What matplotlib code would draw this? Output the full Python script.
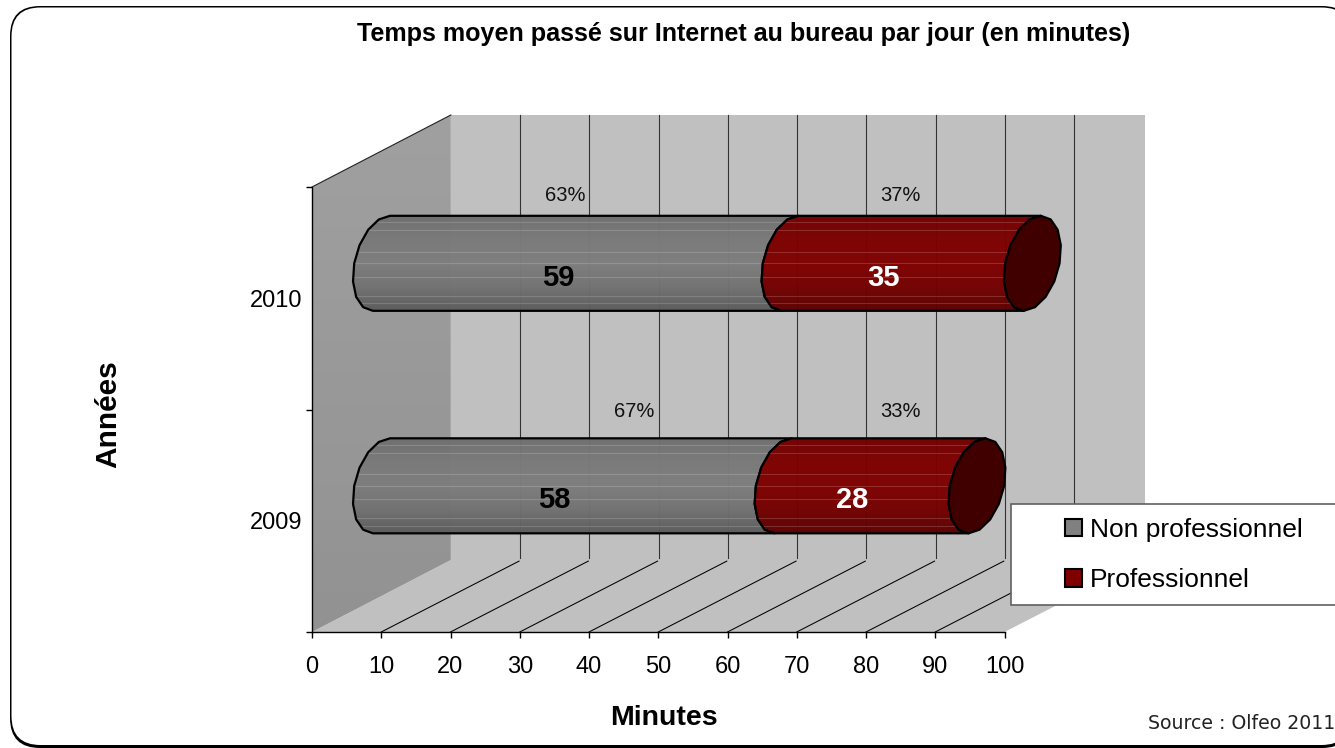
import numpy as np
import matplotlib
matplotlib.use("Agg")
import matplotlib.pyplot as plt
from matplotlib.patches import Polygon, PathPatch, Patch, FancyBboxPatch, Rectangle
from matplotlib.path import Path
from matplotlib.colors import LinearSegmentedColormap

# ---- data ----
years = ["2009", "2010"]
non_pro = [58, 59]
pro = [28, 35]
pct_non_pro = ["67%", "63%"]
pct_pro = ["33%", "37%"]
xticks = list(range(0, 101, 10))
series_names = ["Non professionnel", "Professionnel"]

# ---- style / layout ----
W, H = 1335, 748
plt.rcParams["font.family"] = ["Liberation Sans", "DejaVu Sans"]
PX0, PX1, PY0, PY1 = 312, 1004.5, 632, 187
DX, DY = 20.05, 0.3236             # oblique depth in data units
BACK_EXTRA = 0.2                   # back wall runs slightly past the depth offset
BAR_RISE = 0.157                   # bar centre above the category centre
A, S, B = 3.93, 1.23, 0.2135       # end-ellipse half-width, shear, half-height
GRAY_STOPS = ["#6e6e6e", "#7a7a7a", "#7e7e7e", "#727272", "#5c5c5c"]
RED_STOPS = ["#700000", "#7e0000", "#800000", "#740000", "#5c0000"]
BANDS = [0.07, 0.15, 0.38, 0.50, 0.64, 0.84, 0.92]
PCT_NP_SHIFT = [17.5, 7.0]
PCT_P_SHIFT = [13.0, 8.5]
PCT_Y_SHIFT = [0.493, 0.464]
LABEL_SHIFT = 6.0

fig = plt.figure(figsize=(W / 100, H / 100), dpi=100, facecolor="white")

# background frame in pixel space
bg = fig.add_axes([0, 0, 1, 1], zorder=0)
bg.set_xlim(0, W); bg.set_ylim(H, 0); bg.axis("off")
bg.add_patch(FancyBboxPatch((10, 6), 1342, 742, boxstyle="round,pad=0,rounding_size=30",
                            fc="black", ec="none"))
bg.add_patch(FancyBboxPatch((11.5, 7.5), 1339, 737.5, boxstyle="round,pad=0,rounding_size=29",
                            fc="white", ec="none"))

ax = fig.add_axes([PX0 / W, 1 - PY0 / H, (PX1 - PX0) / W, (PY0 - PY1) / H], zorder=1)
ax.patch.set_visible(False)
ax.set_xlim(0, 100); ax.set_ylim(0, 2)

# walls and floor
ax.add_patch(Polygon([(DX, DY), (100 + DX + BACK_EXTRA, DY), (100 + DX + BACK_EXTRA, 2 + DY), (DX, 2 + DY)],
                     fc="#c0c0c0", ec="none", clip_on=False, zorder=1))
ax.add_patch(Polygon([(0, 0), (100, 0), (100 + DX + BACK_EXTRA, DY), (DX, DY)],
                     fc="#c0c0c0", ec="none", clip_on=False, zorder=1))
wall = ax.imshow(np.linspace(0, 1, 64).reshape(-1, 1), extent=(0, DX, 0, 2 + DY), aspect="auto",
                 cmap=LinearSegmentedColormap.from_list("w", ["#a0a0a0", "#929292"]),
                 zorder=1.1)
wall_clip = Polygon([(0, 0), (DX, DY), (DX, 2 + DY), (0, 2)], transform=ax.transData, fc="none", ec="none")
ax.add_patch(wall_clip); wall_clip.set_clip_on(False)
wall.set_clip_path(wall_clip)
wall.set_clip_box(fig.bbox)
ax.plot([0, DX], [2, 2 + DY], color="#222222", lw=0.8, clip_on=False, zorder=1.2)

# gridlines
for v in xticks[1:-1]:
    ax.plot([v + DX, v + DX], [DY + 0.01, 2 + DY], color="#333333", lw=0.8, clip_on=False, zorder=1.3)
    ax.plot([v, v + DX - 0.15], [0, DY - 0.005], color="black", lw=0.75, clip_on=False, zorder=1.3)


def arc(v, cy, t0, t1, n=9):
    t = np.radians(np.linspace(t0, t1, n))
    return np.column_stack([v + DX / 2 + A * np.cos(t) + S * np.sin(t), cy + B * np.sin(t)])


def segment(v0, v1, cat, stops, name, z):
    cy = cat + BAR_RISE
    pts = np.vstack([arc(v0, cy, 90, 270), arc(v1, cy, 270, 90)])
    path = Path(np.vstack([pts, pts[:1]]), closed=True)
    outline = PathPatch(path, fc="none", ec="black", lw=1.6, clip_on=False, zorder=z + 0.2, joinstyle="round")
    clip = PathPatch(path, fc="none", ec="none", transform=ax.transData)
    ax.add_patch(clip); clip.set_clip_on(False)
    im = ax.imshow(np.linspace(0, 1, 128).reshape(-1, 1),
                   extent=(v0 - 1, v1 + DX / 2 + A + S + 1, cy - B, cy + B), aspect="auto",
                   cmap=LinearSegmentedColormap.from_list(name, stops), alpha=0.98, zorder=z)
    im.set_clip_path(clip)
    im.set_clip_box(fig.bbox)
    for f in BANDS:
        ln, = ax.plot([v0 - 2, v1 + DX], [cy + B - 2 * B * f] * 2, color="white", lw=0.8, alpha=0.16, zorder=z + 0.1)
        ln.set_clip_path(clip)
        ln.set_clip_box(fig.bbox)
    ax.add_patch(outline)


for i, cat in enumerate([0.5, 1.5]):
    a, b = non_pro[i], pro[i]
    segment(0, a, cat, GRAY_STOPS, "g%d" % i, 2 + i * 0.01)
    segment(a, a + b, cat, RED_STOPS, "r%d" % i, 3 + i * 0.01)
    cy = cat + BAR_RISE
    ax.add_patch(Polygon(arc(a + b, cy, 0, 360, 17), closed=True, fc="#400000", ec="black", lw=1.6,
                         clip_on=False, zorder=3.5, joinstyle="round"))
    ty = cat + 0.092
    ax.text(a / 2 + LABEL_SHIFT, ty, str(a), ha="center", va="center", fontsize=21, fontweight="bold",
            color="black", zorder=5)
    ax.text(a + b / 2 + LABEL_SHIFT, ty, str(b), ha="center", va="center", fontsize=21, fontweight="bold",
            color="white", zorder=5)
    py = cat + PCT_Y_SHIFT[i]
    ax.text(a / 2 + PCT_NP_SHIFT[i], py, pct_non_pro[i], ha="center", va="center", fontsize=14.5,
            color="#111111", zorder=5)
    ax.text(a + b / 2 + PCT_P_SHIFT[i], py, pct_pro[i], ha="center", va="center", fontsize=14.5,
            color="#111111", zorder=5)

# axes
for sp in ("top", "right"):
    ax.spines[sp].set_visible(False)
for sp in ("left", "bottom"):
    ax.spines[sp].set_linewidth(1.0); ax.spines[sp].set_zorder(6)
ax.set_xticks(xticks)
ax.set_xticklabels([str(t) for t in xticks], fontsize=17)
ax.tick_params(axis="x", length=4.5, width=1.0, pad=13)
ax.set_yticks([0, 1, 2]); ax.set_yticklabels([])
ax.tick_params(axis="y", which="major", length=4.5, width=1.0)
ax.set_yticks([0.5, 1.5], minor=True)
ax.set_yticklabels(years, minor=True, fontsize=17)
ax.tick_params(axis="y", which="minor", length=0, pad=7)
ax.set_xlim(0, 100); ax.set_ylim(0, 2)

ax.set_xlabel("Minutes", fontsize=20.5, fontweight="bold")
ax.xaxis.set_label_coords(0.508, -0.165)
ax.set_ylabel("Années", fontsize=21.5, fontweight="bold")
ax.yaxis.set_label_coords(-0.2735, 0.489)
ax.set_title("Temps moyen passé sur Internet au bureau par jour (en minutes)",
             fontsize=18.05, fontweight="bold", x=0.623, y=1.325, va="center")

# legend
bg2 = fig.add_axes([0, 0, 1, 1], zorder=2)
bg2.set_xlim(0, W); bg2.set_ylim(H, 0); bg2.axis("off")
bg2.add_patch(Rectangle((1011, 504), 340, 101, fc="white", ec="#606060", lw=1.2))
handles = [Patch(fc="#808080", ec="black", lw=1.5, label=series_names[0]),
           Patch(fc="#800000", ec="black", lw=1.5, label=series_names[1])]
leg = bg2.legend(handles=handles, loc="upper left", bbox_to_anchor=(1060 / W, 1 - 512.5 / H),
                 bbox_transform=fig.transFigure, frameon=False, fontsize=19, handlelength=0.64,
                 handleheight=0.64, handletextpad=0.28, labelspacing=1.0, borderpad=0.2, borderaxespad=0)

bg2.text(1148, 723.5, "Source : Olfeo 2011", fontsize=13.6, family="DejaVu Sans", va="center", ha="left",
         color="#222222")

fig.savefig("out.png", dpi=100)
